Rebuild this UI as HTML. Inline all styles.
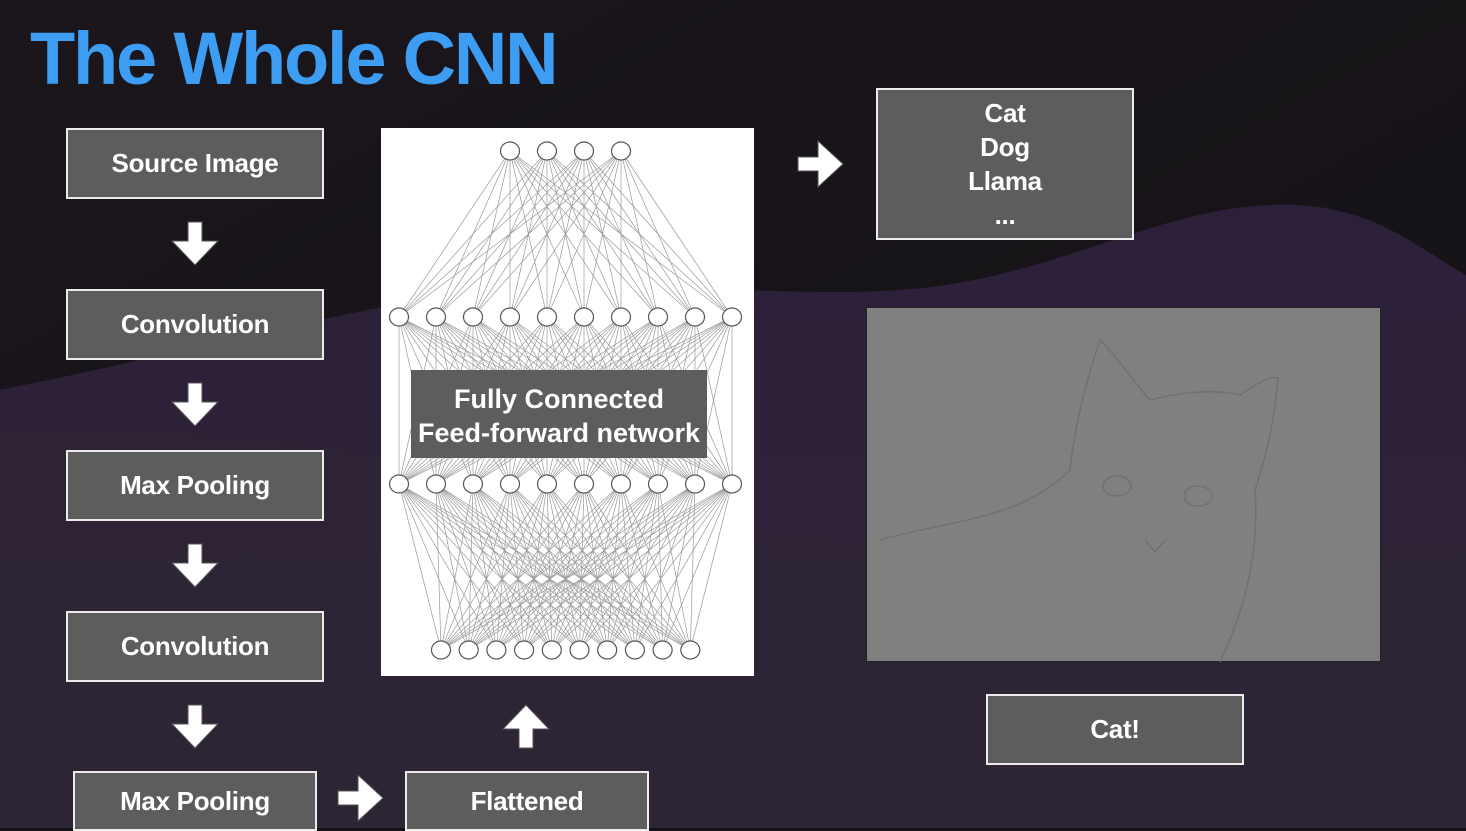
<!DOCTYPE html>
<html><head><meta charset="utf-8"><style>
html,body{margin:0;padding:0;width:1466px;height:828px;overflow:hidden;background:#161317;font-family:"Liberation Sans",sans-serif}
.bx{position:absolute;box-sizing:border-box;background:#5d5d5d;border:2.5px solid #ececec;color:#fff;font-weight:bold;font-size:26px;display:flex;align-items:center;justify-content:center;text-align:center;letter-spacing:-0.3px}
</style></head><body>
<svg width="1466" height="828" style="position:absolute;left:0;top:0">
<defs>
<linearGradient id="g" x1="0" y1="0" x2="0" y2="1"><stop offset="0" stop-color="#2c1f3a"/><stop offset="1" stop-color="#2f2536"/></linearGradient>
<linearGradient id="t" x1="0" y1="0" x2="1" y2="1"><stop offset="0" stop-color="#1a161c"/><stop offset="1" stop-color="#141115"/></linearGradient>
</defs>
<rect width="1466" height="828" fill="url(#t)"/>
<path d="M0,390 C150,360 260,330 420,300 C600,270 760,300 900,290 C1050,280 1150,210 1270,205 C1370,200 1420,250 1466,275 L1466,828 L0,828 Z" fill="url(#g)"/>
<path d="M0,430 C250,420 500,470 700,520 C900,560 1200,560 1466,540 L1466,828 L0,828Z" fill="#2d2433" opacity="0.6"/>
</svg>
<div style="position:absolute;left:30px;top:16px;font-size:74px;font-weight:bold;color:#3d9df2;letter-spacing:-2.2px">The Whole CNN</div>

<div class="bx" style="left:66px;top:128px;width:258px;height:71px">Source Image</div>
<div class="bx" style="left:66px;top:289px;width:258px;height:71px">Convolution</div>
<div class="bx" style="left:66px;top:450px;width:258px;height:71px">Max Pooling</div>
<div class="bx" style="left:66px;top:611px;width:258px;height:71px">Convolution</div>
<div class="bx" style="left:73px;top:771px;width:244px;height:60px">Max Pooling</div>
<div class="bx" style="left:405px;top:771px;width:244px;height:60px">Flattened</div>
<div class="bx" style="left:876px;top:88px;width:258px;height:152px;line-height:34px;flex-direction:column">Cat<br>Dog<br>Llama<br>...</div>
<div class="bx" style="left:986px;top:694px;width:258px;height:71px">Cat!</div>
<div style="position:absolute;left:866px;top:307px;width:515px;height:355px;box-sizing:border-box;background:#808080;border:1.5px solid #222"></div>
<svg width="1466" height="828" style="position:absolute;left:0;top:0" fill="none" stroke="#707070" stroke-width="1.5">
<path d="M1070,470 C1075,420 1090,370 1100,340 C1120,360 1140,390 1150,400 C1190,390 1220,390 1240,395 C1255,385 1270,375 1278,378 C1275,420 1265,460 1255,490 C1260,560 1240,620 1220,662"/>
<path d="M880,540 C950,520 1020,520 1070,470" />
<ellipse cx="1117" cy="486" rx="14" ry="10"/><ellipse cx="1198" cy="496" rx="14" ry="10"/>
<path d="M1145,540 l10,12 l10,-12"/>
</svg>

<svg width="1466" height="828" style="position:absolute;left:0;top:0">
<g fill="#fff" stroke="#555" stroke-width="1">
<path id="da" d="M188,222 h14 v19 h16 l-23,24 l-23,-24 h16 z"/>
<use href="#da" y="161"/><use href="#da" y="322"/><use href="#da" y="483"/>
<path d="M519,748 h14 v-19 h16 l-23,-24 l-23,24 h16 z"/>
<path d="M798,157 h20 v-16 l25,23 l-25,23 v-16 h-20 z"/>
<path d="M338,791 h20 v-16 l25,23 l-25,23 v-16 h-20 z"/>
</g>
<rect x="381" y="128" width="373" height="548" fill="#fff"/>
<g id="net" stroke="#9a9a9a" stroke-width="0.7"></g>
<g id="nodes" fill="#fff" stroke="#555" stroke-width="1.2"></g>
<rect x="411" y="370" width="296" height="88" fill="#5d5d5d"/>
<text x="559" y="408" fill="#fff" font-size="27" font-weight="bold" text-anchor="middle" font-family="Liberation Sans">Fully Connected</text>
<text x="559" y="442" fill="#fff" font-size="27" font-weight="bold" text-anchor="middle" font-family="Liberation Sans">Feed-forward network</text>
</svg>
<script>
var L=[[],[],[],[]];
for(var i=0;i<4;i++)L[0].push([510+i*37,151]);
for(i=0;i<10;i++){L[1].push([399+i*37,317]);L[2].push([399+i*37,484]);L[3].push([441+i*27.7,650]);}
var ns="http://www.w3.org/2000/svg",net=document.getElementById('net'),nd=document.getElementById('nodes');
for(var l=0;l<3;l++)for(var a of L[l])for(var b of L[l+1]){var e=document.createElementNS(ns,'line');e.setAttribute('x1',a[0]);e.setAttribute('y1',a[1]);e.setAttribute('x2',b[0]);e.setAttribute('y2',b[1]);net.appendChild(e);}
for(l=0;l<4;l++)for(a of L[l]){var c=document.createElementNS(ns,'ellipse');c.setAttribute('cx',a[0]);c.setAttribute('cy',a[1]);c.setAttribute('rx',9.5);c.setAttribute('ry',9);nd.appendChild(c);}
</script>
</body></html>
